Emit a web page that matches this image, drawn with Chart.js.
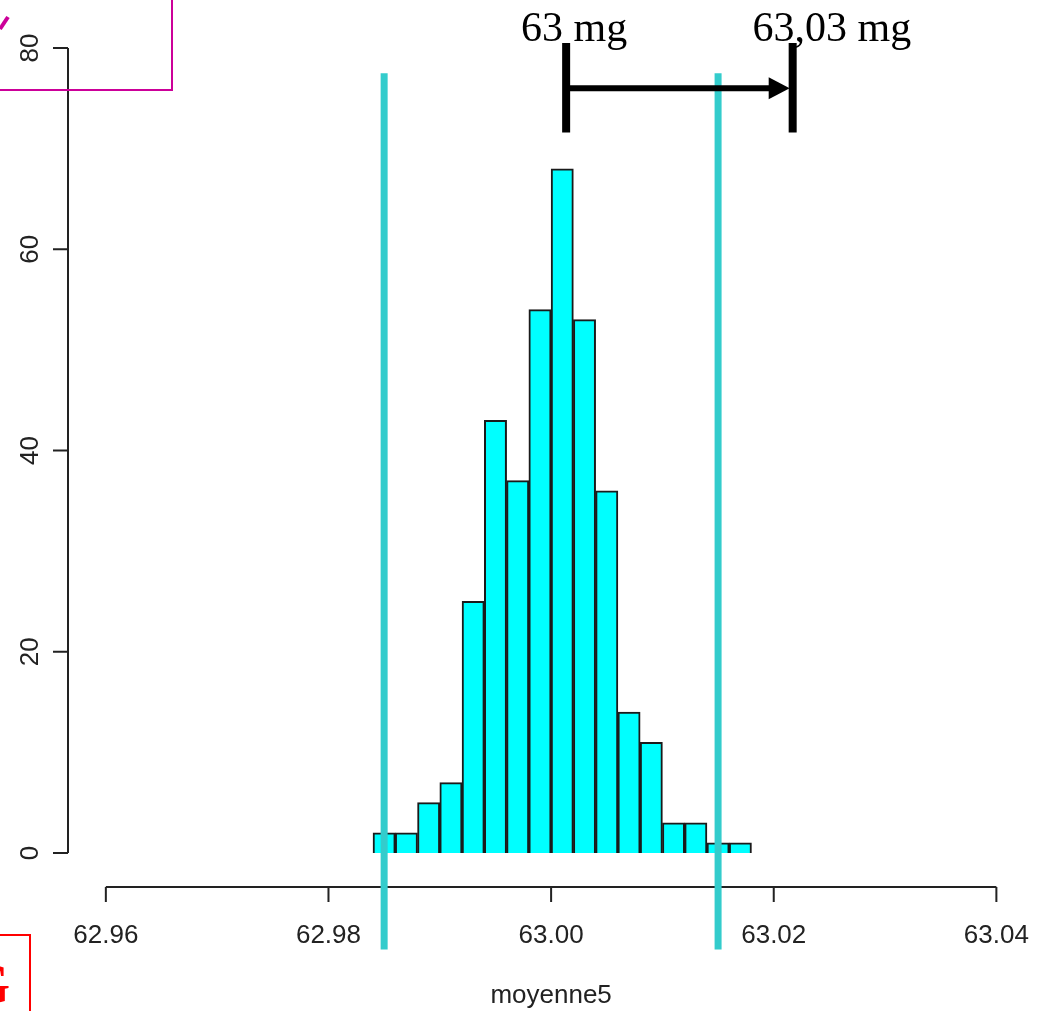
<!DOCTYPE html>
<html>
<head>
<meta charset="utf-8">
<script src="https://cdn.jsdelivr.net/npm/chart.js@4/dist/chart.umd.min.js"></script>
<style>
  html, body { margin: 0; padding: 0; background: #fff; }
  #wrap { position: relative; width: 1042px; height: 1011px; overflow: hidden; }
  #histChart { position: absolute; left: 0; top: 0; }
  .box { position: absolute; box-sizing: border-box; }
  #boxTop { left: -4px; top: -4px; width: 177px; height: 95px; border: 2px solid #cc0099; }
  #boxBottom { left: -4px; top: 934px; width: 35px; height: 90px; border: 2px solid #ff0000; }
</style>
</head>
<body>
<div id="wrap">
  <canvas id="histChart" width="1042" height="1011"></canvas>
  <div class="box" id="boxTop"></div>
  <div class="box" id="boxBottom"></div>
</div>
<script>
// ================= DATA =================
const binStarts = [62.984, 62.986, 62.988, 62.990, 62.992, 62.994, 62.996, 62.998,
  63.000, 63.002, 63.004, 63.006, 63.008, 63.010, 63.012, 63.014, 63.016];
const counts = [2, 2, 5, 7, 25, 43, 37, 54, 68, 53, 36, 14, 11, 3, 3, 1, 1];
const binWidth = 0.002;

const xTicks = [62.96, 62.98, 63.00, 63.02, 63.04];
const xTickLabels = ["62.96", "62.98", "63.00", "63.02", "63.04"];
const yTicks = [0, 20, 40, 60, 80];
const xTitle = "moyenne5";

// vertical reference lines (limits)
const refLines = [62.985, 63.015];
const refLineTop = 77.5;
const refLineBottom = -9.6;

// arrow annotation "63 mg" -> "63,03 mg"
const arrowFrom = 63.00135;
const arrowTo = 63.0217;
const arrowY = 76.0;
const markTop = 80.5;
const markBottom = 71.6;
const arrowLabels = ["63 mg", "63,03 mg"];
const arrowLabelX = [62.9973, 63.0181];
const arrowLabelY = 80.7;

// ================= HELPERS =================
const barData = binStarts.map((s, i) => ({ x: s + binWidth / 2, y: counts[i] }));

const axisFont = '26px "Liberation Sans", Arial, sans-serif';
const serifFont = '42px "Liberation Serif", "Times New Roman", serif';

// ================= CUSTOM AXES / OVERLAYS =================
const overlayPlugin = {
  id: "overlay",
  afterDatasetsDraw(chart) {
    const ctx = chart.ctx;
    const xs = chart.scales.x;
    const ys = chart.scales.y;
    const area = chart.chartArea;

    ctx.save();

    // y axis
    ctx.strokeStyle = "#222";
    ctx.lineWidth = 2;
    const yAxisX = area.left;
    ctx.beginPath();
    ctx.moveTo(yAxisX, ys.getPixelForValue(yTicks[0]));
    ctx.lineTo(yAxisX, ys.getPixelForValue(yTicks[yTicks.length - 1]));
    yTicks.forEach(t => {
      const py = ys.getPixelForValue(t);
      ctx.moveTo(yAxisX, py);
      ctx.lineTo(yAxisX - 15, py);
    });
    ctx.stroke();

    ctx.fillStyle = "#222";
    ctx.font = axisFont;
    ctx.textAlign = "center";
    ctx.textBaseline = "alphabetic";
    yTicks.forEach(t => {
      const py = ys.getPixelForValue(t);
      ctx.save();
      ctx.translate(38, py);
      ctx.rotate(-Math.PI / 2);
      ctx.fillText(String(t), 0, 0);
      ctx.restore();
    });

    // x axis
    const xAxisY = area.bottom;
    ctx.beginPath();
    ctx.moveTo(xs.getPixelForValue(xTicks[0]), xAxisY);
    ctx.lineTo(xs.getPixelForValue(xTicks[xTicks.length - 1]), xAxisY);
    xTicks.forEach(t => {
      const px = xs.getPixelForValue(t);
      ctx.moveTo(px, xAxisY);
      ctx.lineTo(px, xAxisY + 15);
    });
    ctx.stroke();

    xTicks.forEach((t, i) => {
      ctx.fillText(xTickLabels[i], xs.getPixelForValue(t), 943);
    });
    ctx.fillText(xTitle, xs.getPixelForValue(63.0), 1003);

    // reference lines
    ctx.strokeStyle = "#33cccc";
    ctx.lineWidth = 7;
    refLines.forEach(v => {
      const px = xs.getPixelForValue(v);
      ctx.beginPath();
      ctx.moveTo(px, ys.getPixelForValue(refLineTop));
      ctx.lineTo(px, ys.getPixelForValue(refLineBottom));
      ctx.stroke();
    });

    // arrow annotation
    const ax1 = xs.getPixelForValue(arrowFrom);
    const ax2 = xs.getPixelForValue(arrowTo);
    const ay = ys.getPixelForValue(arrowY);
    ctx.strokeStyle = "#000";
    ctx.fillStyle = "#000";
    ctx.lineWidth = 8;
    ctx.beginPath();
    ctx.moveTo(ax1, ys.getPixelForValue(markTop));
    ctx.lineTo(ax1, ys.getPixelForValue(markBottom));
    ctx.moveTo(ax2, ys.getPixelForValue(markTop));
    ctx.lineTo(ax2, ys.getPixelForValue(markBottom));
    ctx.stroke();

    ctx.lineWidth = 6;
    ctx.beginPath();
    ctx.moveTo(ax1, ay);
    ctx.lineTo(ax2 - 20, ay);
    ctx.stroke();
    ctx.beginPath();
    ctx.moveTo(ax2 - 3, ay);
    ctx.lineTo(ax2 - 24, ay - 11);
    ctx.lineTo(ax2 - 24, ay + 11);
    ctx.closePath();
    ctx.fill();

    ctx.font = serifFont;
    ctx.textAlign = "left";
    arrowLabels.forEach((lbl, i) => {
      ctx.fillText(lbl, xs.getPixelForValue(arrowLabelX[i]), ys.getPixelForValue(arrowLabelY));
    });

    // cropped slide glyphs at the edges
    ctx.strokeStyle = "#cc0099";
    ctx.lineWidth = 4;
    ctx.beginPath();
    ctx.moveTo(0, 29);
    ctx.lineTo(8, 17);
    ctx.stroke();

    ctx.fillStyle = "#ff0000";
    ctx.font = 'bold 58px "Liberation Serif", serif';
    ctx.textAlign = "right";
    ctx.fillText("G", 10, 1003);

    ctx.restore();
  }
};

// ================= CHART =================
new Chart(document.getElementById("histChart"), {
  type: "bar",
  data: {
    datasets: [{
      data: barData,
      backgroundColor: "#00ffff",
      borderColor: "#1a1a1a",
      borderWidth: 2,
      barPercentage: 1,
      categoryPercentage: 1,
      grouped: false
    }]
  },
  options: {
    responsive: false,
    animation: false,
    layout: { padding: { left: 68, right: 10, top: 16, bottom: 124 } },
    plugins: { legend: { display: false }, tooltip: { enabled: false } },
    scales: {
      x: { type: "linear", min: 62.9566, max: 63.0432, offset: false, display: false },
      y: { min: -3.38, max: 83.18, display: false }
    }
  },
  plugins: [overlayPlugin]
});
</script>
</body>
</html>
